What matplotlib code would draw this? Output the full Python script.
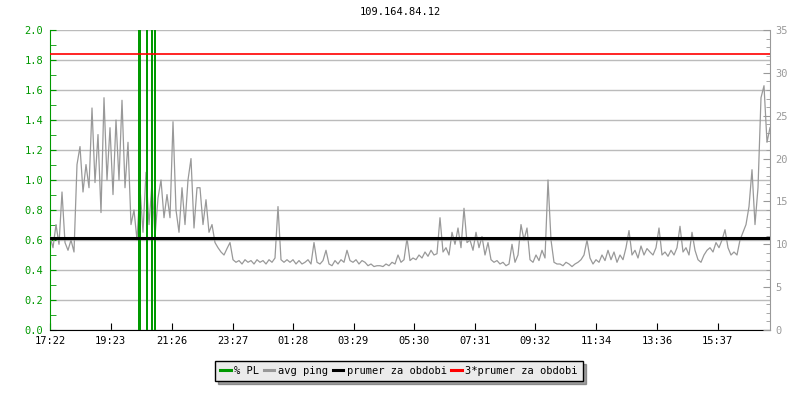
import matplotlib
matplotlib.use("Agg")
import matplotlib.pyplot as plt
from matplotlib.ticker import MultipleLocator, FormatStrFormatter
from matplotlib.lines import Line2D

title = "109.164.84.12"

# avg ping [ms], one sample every 6 minutes starting at 17:22
ping_ms = [
    10.9, 9.6, 12.3, 10.0, 16.1, 10.2, 9.3, 10.5, 9.1, 19.3,
    21.4, 16.1, 19.3, 16.6, 25.9, 17.2, 22.8, 13.7, 27.1, 17.5,
    23.6, 15.8, 24.5, 17.5, 26.8, 16.6, 21.9, 12.3, 14.0, 10.5,
    16.6, 11.4, 18.4, 12.3, 17.2, 10.9, 15.4, 17.5, 13.1, 15.8,
    13.1, 24.3, 14.0, 11.4, 16.6, 12.3, 17.5, 20.0, 11.9, 16.6,
    16.6, 12.3, 15.2, 11.4, 12.3, 10.2, 9.6, 9.1, 8.75, 9.5,
    10.2, 8.2, 7.9, 8.1, 7.7, 8.2, 7.9, 8.1, 7.7, 8.2,
    7.9, 8.1, 7.7, 8.2, 7.9, 8.4, 14.4, 8.2, 7.9, 8.2,
    7.9, 8.2, 7.7, 8.1, 7.7, 7.9, 8.2, 7.7, 10.2, 7.9,
    7.7, 8.1, 9.3, 7.7, 7.5, 8.1, 7.7, 8.2, 7.9, 9.3,
    8.1, 7.9, 8.2, 7.7, 8.1, 7.9, 7.5, 7.7, 7.4, 7.5,
    7.5, 7.4, 7.7, 7.5, 7.9, 7.7, 8.75, 7.9, 8.2, 10.7,
    8.1, 8.4, 8.2, 8.75, 8.4, 9.1, 8.6, 9.3, 8.75, 8.9,
    13.1, 9.1, 9.6, 8.75, 11.4, 10.0, 11.9, 9.6, 14.2, 10.2,
    10.5, 9.3, 11.4, 9.6, 10.9, 8.75, 10.2, 8.2, 7.9, 8.1,
    7.7, 7.9, 7.5, 7.7, 10.0, 7.9, 8.75, 12.3, 10.5, 11.9,
    8.2, 7.9, 8.75, 8.1, 9.3, 8.4, 17.5, 10.5, 7.9, 7.7,
    7.7, 7.5, 7.9, 7.7, 7.4, 7.7, 7.9, 8.2, 8.75, 10.5,
    8.4, 7.7, 8.2, 7.9, 8.75, 8.1, 9.3, 8.2, 9.1, 7.9,
    8.75, 8.2, 9.6, 11.6, 8.75, 9.3, 8.4, 9.8, 8.75, 9.5,
    9.1, 8.75, 9.6, 11.9, 8.75, 9.1, 8.6, 9.3, 8.75, 9.6,
    12.1, 9.1, 9.6, 8.75, 11.4, 9.3, 8.2, 7.9, 8.75, 9.3,
    9.6, 9.1, 10.2, 9.6, 10.5, 11.7, 9.6, 8.75, 9.1, 8.75,
    10.5, 11.4, 12.3, 14.4, 18.7, 12.3, 16.6, 27.1, 28.5, 21.9,
    23.6,
]
ping_step = 6  # minutes
ping_t = [i * ping_step for i in range(len(ping_ms))]

# packet loss events (minutes after 17:22, percent)
pl_t = [179, 194, 204, 210]
pl_pct = [100, 100, 100, 100]

avg_ms = 10.75
x_labels = ["17:22", "19:23", "21:26", "23:27", "01:28", "03:29",
            "05:30", "07:31", "09:32", "11:34", "13:36", "15:37"]

def minutes_from_start(lbl, start="17:22"):
    h, m = map(int, lbl.split(":"))
    h0, m0 = map(int, start.split(":"))
    return ((h * 60 + m) - (h0 * 60 + m0)) % 1440

x_pos = [minutes_from_start(l) for l in x_labels]

green = "#009900"
gray = "#999999"
font = "DejaVu Sans Mono"
fs = 7.5

plt.rcParams["font.family"] = font

fig = plt.figure(figsize=(8, 4), dpi=100)
ax = fig.add_axes([50 / 800, 70 / 400, 720 / 800, 300 / 400])
axp = ax.twinx()   # ping (right axis)
axl = ax.twinx()   # packet loss bars
axm = ax.twinx()   # average lines

# left axis (PL)
ax.set_xlim(0, 1440)
ax.set_ylim(0, 2.0)
ax.yaxis.set_major_locator(MultipleLocator(0.2))
ax.yaxis.set_minor_locator(MultipleLocator(0.1))
ax.yaxis.set_major_formatter(FormatStrFormatter("%.1f"))
ax.grid(axis="y", color="#bbbbbb", lw=1.0)
ax.set_xticks(x_pos)
ax.set_xticklabels(x_labels)
ax.tick_params(axis="x", direction="in", length=5, color="black", labelsize=fs, pad=4)
ax.tick_params(axis="y", which="both", direction="in", length=4, color=green,
               labelcolor=green, labelsize=fs, pad=5)
for s in ["top", "right"]:
    ax.spines[s].set_visible(False)
ax.spines["left"].set_color(green)
ax.spines["bottom"].set_color("black")

# right axis (ping)
axp.plot(ping_t, ping_ms, color=gray, lw=0.9)
axp.set_ylim(0, 35)
axp.yaxis.set_major_locator(MultipleLocator(5))
axp.yaxis.set_minor_locator(MultipleLocator(1))
axp.tick_params(axis="y", which="major", direction="in", length=5, color=gray,
                labelcolor=gray, labelsize=fs, pad=4)
axp.tick_params(axis="y", which="minor", direction="in", length=3, color=gray)
for s in ["top", "left", "bottom"]:
    axp.spines[s].set_visible(False)
axp.spines["right"].set_color(gray)

# packet loss
axl.bar(pl_t, pl_pct, width=[4.5, 3, 3, 3], color=green, linewidth=0)
axl.set_ylim(0, 2.0)
axl.axis("off")

# averages
axm.axhline(avg_ms, color="black", lw=2.2)
axm.axhline(3 * avg_ms, color="red", lw=1.2)
axm.set_ylim(0, 35)
axm.axis("off")
ax.set_xlim(0, 1440)

fig.text(0.5, 1 - 12 / 400, title, ha="center", va="center", fontsize=fs)

handles = [Line2D([], [], color=green, lw=2.2),
           Line2D([], [], color=gray, lw=2.2),
           Line2D([], [], color="black", lw=2.2),
           Line2D([], [], color="red", lw=2.2)]
labels = ["% PL", "avg ping", "prumer za obdobi", "3*prumer za obdobi"]
leg = fig.legend(handles, labels, loc="center", bbox_to_anchor=(399 / 800, 1 - 371 / 400),
                 ncol=4, fontsize=fs, frameon=True, fancybox=False, shadow=True,
                 handlelength=1.0, handletextpad=0.35, columnspacing=0.45,
                 borderpad=0.5, borderaxespad=0)
leg.get_frame().set_edgecolor("black")
leg.get_frame().set_facecolor("#ebebeb")
leg.get_frame().set_alpha(1)
leg.get_frame().set_linewidth(1.0)

fig.savefig("out.png", dpi=100)
